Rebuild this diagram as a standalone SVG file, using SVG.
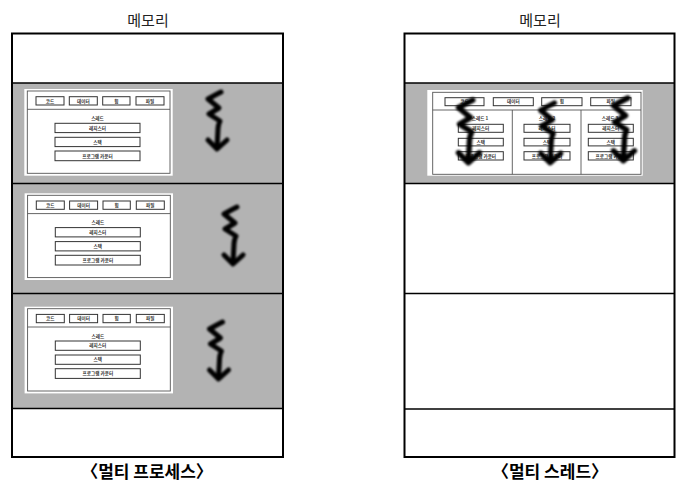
<svg xmlns="http://www.w3.org/2000/svg" width="691" height="497" viewBox="0 0 691 497">
<style>
.frame{fill:none;stroke:#000;stroke-width:2}
.div{stroke:#000;stroke-width:1.5}
.gray{fill:#b3b3b3}
.card{fill:#fff}
.cb{fill:none;stroke:#555;stroke-width:0.9}
.bx{fill:#fff;stroke:#333;stroke-width:1}
.tiny{font-family:"Noto Sans CJK KR","Noto Sans",sans-serif;font-size:4.6px;fill:#333;text-anchor:middle;font-weight:bold}
.title{font-family:"Noto Sans CJK KR","Noto Sans",sans-serif;font-size:15px;fill:#222;text-anchor:middle}
.cap{font-family:"Noto Sans CJK KR","Noto Sans",sans-serif;font-size:17px;fill:#000;text-anchor:middle;font-weight:bold}
.sq{fill:none;stroke:#000;stroke-width:5;stroke-linecap:round;stroke-linejoin:round}
</style>
<defs>
<filter id="soft" x="-50%" y="-50%" width="200%" height="200%"><feGaussianBlur stdDeviation="0.8"/></filter>
<g id="squiggle" filter="url(#soft)">
<path class="sq" d="M8 0 Q2 3 -5 7 L6 16 L-4 22 L7 29 Q5 33 5 37 L4 56"/>
<path class="sq" d="M-5 48 L4 57 L14 48"/>
</g>
<g id="proc">
<rect class="card" x="0" y="0" width="148.4" height="86.7"/>
<rect class="cb" x="3" y="2" width="142.7" height="82.3"/>
<line class="cb" x1="3" y1="20.3" x2="145.7" y2="20.3"/>
<rect class="bx" x="11.7" y="7.7" width="28" height="8.3"/>
<rect class="bx" x="45" y="7.7" width="28" height="8.3"/>
<rect class="bx" x="78.4" y="7.7" width="27.3" height="8.3"/>
<rect class="bx" x="111.7" y="7.7" width="28" height="8.3"/>
<text class="tiny" x="25.7" y="13.5">코드</text>
<text class="tiny" x="59" y="13.5">데이터</text>
<text class="tiny" x="92" y="13.5">힙</text>
<text class="tiny" x="125.7" y="13.5">파일</text>
<text class="tiny" x="73.2" y="31">스레드</text>
<rect class="bx" x="30.7" y="34.3" width="85" height="9.3"/>
<rect class="bx" x="30.7" y="48.3" width="85" height="9.3"/>
<rect class="bx" x="30.7" y="62" width="85" height="9.7"/>
<text class="tiny" x="73.2" y="40.6">레지스터</text>
<text class="tiny" x="73.2" y="54.6">스택</text>
<text class="tiny" x="73.2" y="68.5">프로그램 카운터</text>
</g>
</defs>

<g id="left-memory">
<text class="title" x="148" y="26">메모리</text>
<rect class="gray" x="12" y="83" width="271" height="325.5"/>
<line class="div" x1="12" y1="83" x2="283" y2="83"/>
<line class="div" x1="12" y1="183.5" x2="283" y2="183.5"/>
<line class="div" x1="12" y1="293.5" x2="283" y2="293.5"/>
<line class="div" x1="12" y1="408.5" x2="283" y2="408.5"/>
<rect class="frame" x="12" y="33.5" width="271" height="423.5"/>
</g>
<g id="process-1"><use href="#proc" x="24.3" y="89"/></g>
<g id="process-2"><use href="#proc" x="24.6" y="193.3"/></g>
<g id="process-3"><use href="#proc" x="24.6" y="306.7"/></g>
<g id="left-caption"><text class="cap" x="147" y="478">〈멀티 프로세스〉</text></g>

<g id="right-memory">
<text class="title" x="540" y="26">메모리</text>
<rect class="gray" x="404.5" y="83" width="270" height="100.5"/>
<line class="div" x1="404.5" y1="83" x2="674.5" y2="83"/>
<line class="div" x1="404.5" y1="183.5" x2="674.5" y2="183.5"/>
<line class="div" x1="404.5" y1="293.5" x2="674.5" y2="293.5"/>
<line class="div" x1="404.5" y1="409" x2="674.5" y2="409"/>
<rect class="frame" x="404.5" y="33.5" width="270" height="423.5"/>
</g>
<g id="multithread-process">
<rect class="card" x="427.3" y="90" width="215.4" height="85.7"/>
<rect class="cb" x="432.7" y="92.3" width="208.3" height="82"/>
<line class="cb" x1="432.7" y1="110" x2="641" y2="110"/>
<line class="cb" x1="512.3" y1="110" x2="512.3" y2="174.3"/>
<line class="cb" x1="581" y1="110" x2="581" y2="174.3"/>
<rect class="bx" x="445" y="97.7" width="39" height="8"/>
<rect class="bx" x="493.3" y="97.7" width="40" height="8"/>
<rect class="bx" x="541.7" y="97.7" width="40.3" height="8"/>
<rect class="bx" x="590.7" y="97.7" width="40.3" height="8"/>
<text class="tiny" x="464.5" y="103.3">코드</text>
<text class="tiny" x="513.3" y="103.3">데이터</text>
<text class="tiny" x="561.8" y="103.3">힙</text>
<text class="tiny" x="610.8" y="103.3">파일</text>
<text class="tiny" x="480" y="120">스레드 1</text>
<text class="tiny" x="547" y="120">스레드 2</text>
<text class="tiny" x="610" y="120">스레드 3</text>
<rect class="bx" x="458.3" y="124.3" width="45" height="8"/>
<rect class="bx" x="458.3" y="138.3" width="45" height="7.6"/>
<rect class="bx" x="458.3" y="151.7" width="45" height="8.3"/>
<rect class="bx" x="524" y="124.3" width="46" height="8"/>
<rect class="bx" x="524" y="138.3" width="46" height="7.6"/>
<rect class="bx" x="524" y="151.7" width="46" height="8.3"/>
<rect class="bx" x="588.3" y="124.3" width="45" height="8"/>
<rect class="bx" x="588.3" y="138.3" width="45" height="7.6"/>
<rect class="bx" x="588.3" y="151.7" width="45" height="8.3"/>
<text class="tiny" x="480.8" y="130">레지스터</text>
<text class="tiny" x="480.8" y="143.8">스택</text>
<text class="tiny" x="480.8" y="157.6">프로그램 카운터</text>
<text class="tiny" x="547" y="130">레지스터</text>
<text class="tiny" x="547" y="143.8">스택</text>
<text class="tiny" x="547" y="157.6">프로그램 카운터</text>
<text class="tiny" x="610.8" y="130">레지스터</text>
<text class="tiny" x="610.8" y="143.8">스택</text>
<text class="tiny" x="610.8" y="157.6">프로그램 카운터</text>
</g>
<g id="right-caption"><text class="cap" x="550" y="478">〈멀티 스레드〉</text></g>

<g id="thread-arrows">
<use href="#squiggle" x="213" y="92"/>
<use href="#squiggle" x="229" y="207"/>
<use href="#squiggle" x="214.5" y="322"/>
<use href="#squiggle" transform="translate(464 100) scale(1.1)"/>
<use href="#squiggle" transform="translate(546 103) scale(1.05)"/>
<use href="#squiggle" transform="translate(619 98) scale(1.1)"/>
</g>
</svg>
